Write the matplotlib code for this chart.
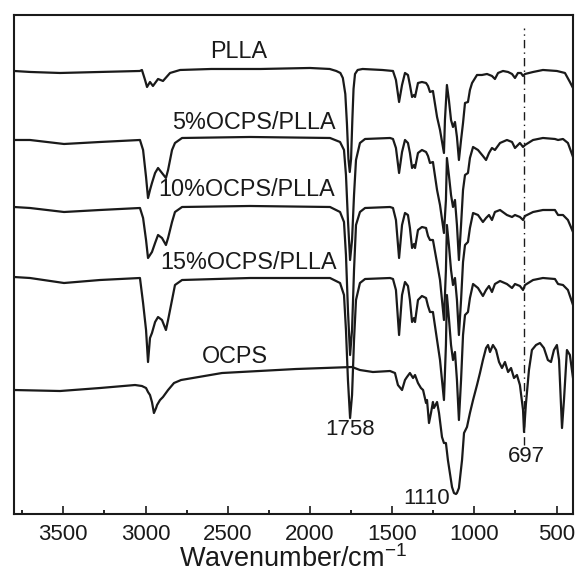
import matplotlib.pyplot as plt

plt.rcParams['font.family'] = ['Liberation Sans', 'DejaVu Sans']
plt.rcParams['mathtext.default'] = 'regular'

# wavenumber (cm-1) / offset transmittance (a.u.) pairs
pll_wn = [3800, 3700, 3520, 3280, 3035, 3022, 3003, 2991, 2973, 2955, 2924, 2894, 2851, 2790,
          2600, 2300, 2000, 1880, 1840, 1815, 1800, 1785, 1775, 1766, 1758, 1750, 1742, 1735,
          1726, 1710, 1680, 1560,
          1495, 1477, 1458, 1440, 1422, 1404, 1392, 1379, 1367, 1361, 1343, 1319, 1294, 1282,
          1270, 1252, 1227, 1209, 1185, 1179, 1167, 1155, 1142, 1130, 1118, 1106, 1094, 1081,
          1069, 1057, 1039, 1027, 1014, 984, 954, 923, 893, 875, 856, 826, 795, 771, 753, 735,
          717, 704, 692, 643, 583, 498, 449, 419, 400]
pll_t = [443, 442, 441, 442, 443, 444, 434, 427, 432, 428, 435, 433, 441, 444,
         445, 445, 446, 445, 443, 441, 436, 420, 390, 355, 342, 355, 395, 425,
         440, 444, 445, 444,
         443, 434, 412, 429, 441, 439, 429, 417, 419, 417, 431, 432, 431, 428,
         422, 423, 397, 384, 361, 394, 429, 414, 394, 387, 392, 377, 354, 374,
         391, 411, 412, 424, 431, 439, 439, 440, 438, 435, 441, 443, 442, 440, 436, 441,
         441, 438, 440, 442, 444, 443, 441, 432, 426]

blend_wn = [3800, 3703, 3496, 3277, 3034, 3015, 2997, 2985, 2973, 2961, 2942, 2924, 2900, 2876,
            2863, 2839, 2821, 2778, 2365, 1878, 1817, 1793, 1781, 1769, 1756, 1744, 1732, 1720,
            1696, 1665, 1513,
            1495, 1477, 1458, 1440, 1422, 1404, 1392, 1379, 1367, 1361, 1343, 1319, 1294, 1282,
            1270, 1252, 1227, 1209, 1185, 1173, 1167, 1155, 1142, 1130, 1118, 1106, 1094, 1081,
            1069, 1057, 1039, 1027, 1008, 978, 948, 929, 911, 893, 875, 844, 802, 771, 753, 723,
            704, 692, 643, 583, 510, 491, 461, 431, 400]
p5_t = [374, 374, 370, 372, 374, 364, 337, 316, 324, 331, 341, 346, 341, 336,
        344, 364, 371, 376, 377, 376, 372, 364, 339, 294, 254, 274, 319, 354,
        371, 375, 376,
        375, 366, 341, 362, 374, 371, 361, 346, 349, 346, 361, 364, 362, 358,
        351, 352, 324, 309, 281, 314, 356, 339, 319, 307, 314, 289, 254, 289,
        324, 339, 341, 356, 367, 364, 358, 354, 361, 366, 364, 371, 374, 372, 366, 371,
        367, 369, 374, 376, 375, 374, 375, 371, 357]
p10_t = [307, 306, 302, 304, 306, 296, 274, 256, 259, 262, 271, 279, 276, 269,
         276, 292, 302, 307, 308, 307, 302, 292, 259, 204, 159, 184, 244, 289,
         302, 306, 307,
         306, 294, 256, 289, 301, 299, 286, 266, 270, 266, 284, 287, 286, 278,
         274, 274, 251, 234, 194, 244, 289, 269, 244, 229, 236, 214, 179, 214,
         252, 269, 272, 286, 301, 299, 292, 296, 299, 294, 302, 304, 299, 297, 299, 297,
         294, 298, 302, 304, 304, 299, 299, 294, 282]
p15_t = [237, 236, 231, 234, 236, 211, 184, 152, 176, 181, 192, 197, 194, 184,
         194, 214, 229, 234, 236, 236, 231, 219, 184, 134, 96, 119, 174, 214,
         231, 235, 236,
         235, 224, 179, 219, 232, 228, 214, 192, 196, 192, 214, 218, 216, 208,
         202, 202, 174, 154, 114, 169, 219, 196, 169, 154, 162, 134, 94, 134,
         179, 199, 202, 216, 230, 226, 218, 224, 228, 222, 230, 233, 230, 226, 230, 228,
         224, 229, 234, 236, 235, 230, 229, 224, 209]

ocps_wn = [3800, 3520, 3277, 3064, 3022, 2997, 2985, 2973, 2961, 2949, 2936, 2930, 2912, 2894,
           2863, 2827, 2784, 2535, 2085, 1744, 1696, 1617, 1513, 1483, 1465, 1440, 1422, 1410,
           1392, 1373, 1361, 1343, 1325, 1312, 1294, 1288, 1276, 1264, 1252, 1246, 1227, 1215,
           1197, 1185, 1173, 1161, 1136, 1124, 1112, 1106, 1094, 1075, 1063, 1045, 1027, 1008,
           984, 966, 948, 929, 917, 905, 887, 868, 850, 832, 814, 795, 777, 759, 741, 723, 704,
           698, 687, 668, 650, 625, 601, 577, 553, 534, 516, 498, 485, 467, 455, 437, 419, 400]
ocps_t = [124, 123, 126, 129, 128, 126, 122, 119, 112, 101, 106, 109, 114, 117,
          124, 131, 134, 141, 145, 147, 144, 142, 143, 141, 129, 124, 134, 137,
          141, 136, 139, 131, 126, 124, 111, 114, 91, 101, 112, 106, 112, 101,
          77, 71, 71, 54, 27, 21, 20, 21, 26, 54, 81, 87, 101, 114,
          129, 141, 154, 166, 169, 162, 169, 164, 152, 146, 152, 142, 146, 136, 139, 129, 104,
          82, 109, 144, 164, 169, 171, 166, 154, 152, 164, 169, 154, 86, 114, 164, 159, 136]

series = [(pll_wn, pll_t), (blend_wn, p5_t), (blend_wn, p10_t), (blend_wn, p15_t), (ocps_wn, ocps_t)]
names = ['PLLA', '5%OCPS/PLLA', '10%OCPS/PLLA', '15%OCPS/PLLA', 'OCPS']
name_pos = [(2435, 462, 'center'), (1845, 391, 'right'), (1845, 324, 'right'),
            (1836, 251, 'right'), (2455, 158, 'center')]
peaks = [(1756, 85, '1758'), (1288, 16, '1110'), (682, 58, '697')]

fig = plt.figure(figsize=(5.77, 5.76), dpi=100)
ax = fig.add_axes([0.0243, 0.1076, 0.9688, 0.8664])

for wn, t in series:
    ax.plot(wn, t, color='#1a1a1a', lw=1.6, solid_joinstyle='round')

for name, (x, y, ha) in zip(names, name_pos):
    ax.text(x, y, name, ha=ha, va='center', fontsize=16.8, color='#1a1a1a')

for x, y, s in peaks:
    ax.text(x, y, s, ha='center', va='center', fontsize=16, color='#1a1a1a')

ax.plot([697, 697], [69, 486], color='#1a1a1a', lw=1.0, linestyle='-.', dashes=(6, 3, 1, 3))

ax.set_xlim(3800, 400)
ax.set_ylim(0, 499)
ax.set_xticks([3500, 3000, 2500, 2000, 1500, 1000, 500])
ax.set_xticks([3750, 3250, 2750, 2250, 1750, 1250, 750], minor=True)
ax.tick_params(axis='x', which='major', direction='in', length=5.5, width=1.2,
               labelsize=16, pad=7, colors='#1a1a1a')
ax.tick_params(axis='x', which='minor', direction='in', length=2.8, width=1.2)
ax.set_yticks([])
for sp in ax.spines.values():
    sp.set_linewidth(1.5)
    sp.set_color('#1a1a1a')
ax.set_xlabel('Wavenumber/cm$^{-1}$', fontsize=19.5, labelpad=0, color='#1a1a1a')

fig.savefig('out.png', dpi=100)
